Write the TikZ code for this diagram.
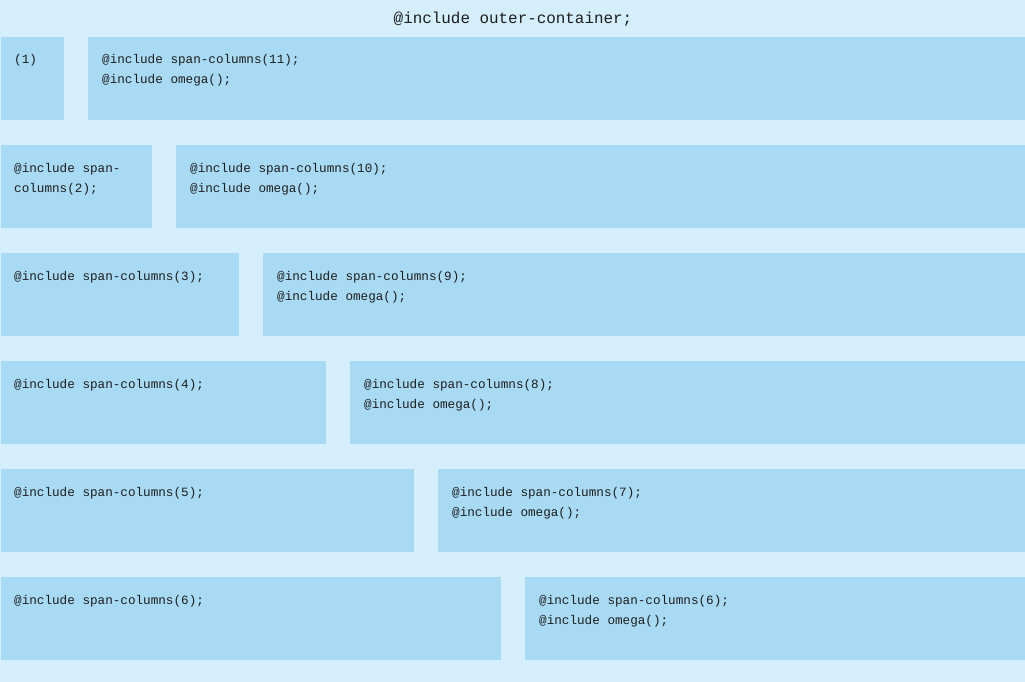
\documentclass[tikz,border=0pt]{standalone}
\usepackage{fontspec}
\setmonofont{Liberation Mono}
\definecolor{bgc}{HTML}{D5EEFB}
\definecolor{boxc}{HTML}{A8DBF3}
\definecolor{txt}{HTML}{1E1E1E}
\begin{document}
\begin{tikzpicture}[x=1pt,y=-1pt,
 cell/.style={fill=boxc, draw=none, inner sep=0pt, outer sep=0pt, anchor=north west, minimum height=83pt},
 code/.style={font=\ttfamily\fontsize{12.65}{20}\selectfont, text=txt, anchor=base west, inner sep=0pt},
 titletext/.style={font=\ttfamily\fontsize{15.9}{19}\selectfont, text=txt, anchor=base, inner sep=0pt}
]
\fill[bgc] (0,0) rectangle (1025,682);
\useasboundingbox (0,0) rectangle (1025,682);
\node[titletext] (title) at (513,23.5) {@include outer-container;};
% row 1
\node[cell, minimum width=63pt] (l1) at (1,37) {};
\node[cell, minimum width=937pt] (r1) at (88,37) {};
\node[code] (l1a) at (14,64) {(1)};
\node[code] (r1a) at (102,64) {@include span-columns(11);};
\node[code] (r1b) at (102,84) {@include omega();};
% row 2
\node[cell, minimum width=151pt] (l2) at (1,145) {};
\node[cell, minimum width=849pt] (r2) at (176,145) {};
\node[code] (l2a) at (14,172) {@include span-};
\node[code] (l2b) at (14,192) {columns(2);};
\node[code] (r2a) at (190,172) {@include span-columns(10);};
\node[code] (r2b) at (190,192) {@include omega();};
% row 3
\node[cell, minimum width=238pt] (l3) at (1,253) {};
\node[cell, minimum width=762pt] (r3) at (263,253) {};
\node[code] (l3a) at (14,280) {@include span-columns(3);};
\node[code] (r3a) at (277,280) {@include span-columns(9);};
\node[code] (r3b) at (277,300) {@include omega();};
% row 4
\node[cell, minimum width=325pt] (l4) at (1,361) {};
\node[cell, minimum width=675pt] (r4) at (350,361) {};
\node[code] (l4a) at (14,388) {@include span-columns(4);};
\node[code] (r4a) at (364,388) {@include span-columns(8);};
\node[code] (r4b) at (364,408) {@include omega();};
% row 5
\node[cell, minimum width=413pt] (l5) at (1,469) {};
\node[cell, minimum width=587pt] (r5) at (438,469) {};
\node[code] (l5a) at (14,496) {@include span-columns(5);};
\node[code] (r5a) at (452,496) {@include span-columns(7);};
\node[code] (r5b) at (452,516) {@include omega();};
% row 6
\node[cell, minimum width=500pt] (l6) at (1,577) {};
\node[cell, minimum width=500pt] (r6) at (525,577) {};
\node[code] (l6a) at (14,604) {@include span-columns(6);};
\node[code] (r6a) at (539,604) {@include span-columns(6);};
\node[code] (r6b) at (539,624) {@include omega();};
\end{tikzpicture}
\end{document}
